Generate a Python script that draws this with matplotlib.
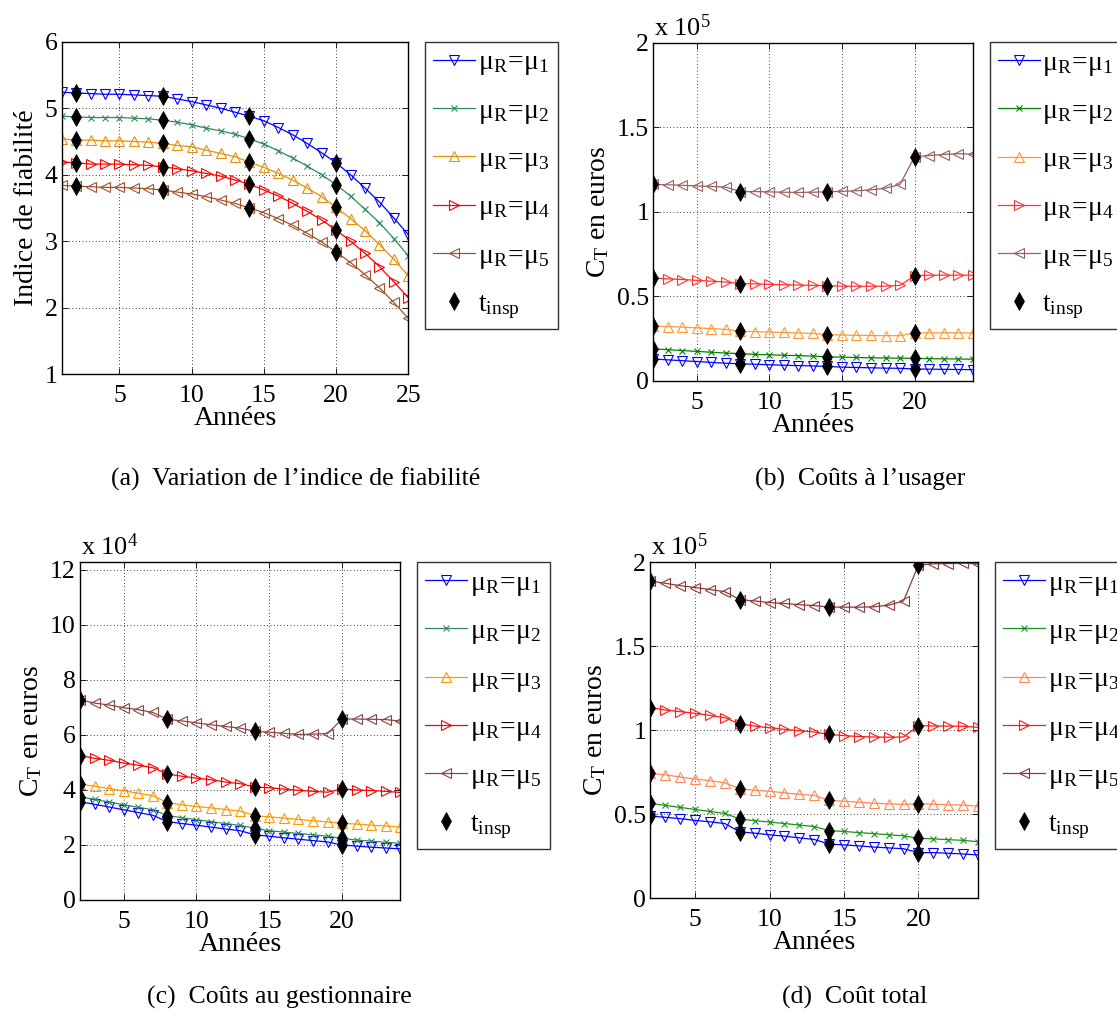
import numpy as np
import matplotlib
matplotlib.use("Agg")
import matplotlib.pyplot as plt

plt.rcParams['font.family'] = ['Liberation Serif', 'DejaVu Serif']
plt.rcParams['mathtext.fontset'] = 'custom'
plt.rcParams['mathtext.rm'] = 'Liberation Serif'
plt.rcParams['mathtext.it'] = 'Liberation Serif:italic'

# years
years_a = np.arange(1, 26)
years_c = np.arange(2, 25)
t_insp = [2, 8, 14, 20]

# (a) indice de fiabilite
a_mu1 = [5.24, 5.23, 5.22, 5.21, 5.21, 5.20, 5.19, 5.18, 5.14, 5.10, 5.05, 5.00, 4.94,
         4.88, 4.81, 4.71, 4.60, 4.47, 4.33, 4.18, 4.00, 3.80, 3.59, 3.35, 3.10]
a_mu2 = [4.88, 4.87, 4.86, 4.86, 4.86, 4.85, 4.84, 4.82, 4.79, 4.75, 4.70, 4.66, 4.61,
         4.54, 4.46, 4.36, 4.25, 4.13, 4.00, 3.85, 3.68, 3.48, 3.28, 3.04, 2.78]
a_mu3 = [4.54, 4.52, 4.52, 4.51, 4.51, 4.50, 4.49, 4.47, 4.44, 4.42, 4.37, 4.32, 4.27,
         4.19, 4.11, 4.02, 3.92, 3.80, 3.67, 3.51, 3.34, 3.16, 2.95, 2.73, 2.48]
a_mu4 = [4.19, 4.18, 4.16, 4.16, 4.16, 4.15, 4.14, 4.12, 4.09, 4.06, 4.02, 3.98, 3.92,
         3.86, 3.77, 3.68, 3.57, 3.45, 3.32, 3.17, 3.00, 2.82, 2.62, 2.39, 2.15]
a_mu5 = [3.84, 3.83, 3.82, 3.81, 3.81, 3.80, 3.79, 3.77, 3.74, 3.71, 3.67, 3.62, 3.57,
         3.50, 3.43, 3.34, 3.24, 3.12, 2.99, 2.84, 2.68, 2.50, 2.30, 2.08, 1.84]

# (b) couts a l'usager (x 1e5 euros)
b_mu1 = [0.130, 0.125, 0.120, 0.115, 0.110, 0.105, 0.102, 0.099, 0.096, 0.093, 0.091, 0.089,
         0.086, 0.082, 0.080, 0.078, 0.076, 0.075, 0.071, 0.070, 0.069, 0.068, 0.067]
b_mu2 = [0.190, 0.185, 0.180, 0.175, 0.170, 0.165, 0.162, 0.157, 0.155, 0.152, 0.150, 0.147,
         0.143, 0.141, 0.139, 0.137, 0.136, 0.135, 0.134, 0.132, 0.131, 0.130, 0.129]
b_mu3 = [0.324, 0.322, 0.318, 0.314, 0.310, 0.305, 0.294, 0.292, 0.289, 0.287, 0.284, 0.281,
         0.274, 0.272, 0.270, 0.269, 0.268, 0.268, 0.284, 0.285, 0.285, 0.285, 0.283]
b_mu4 = [0.609, 0.604, 0.600, 0.595, 0.590, 0.585, 0.576, 0.574, 0.571, 0.569, 0.567, 0.565,
         0.563, 0.561, 0.560, 0.560, 0.561, 0.565, 0.623, 0.625, 0.626, 0.626, 0.625]
b_mu5 = [1.162, 1.160, 1.157, 1.153, 1.150, 1.146, 1.119, 1.120, 1.118, 1.116, 1.115, 1.116,
         1.119, 1.121, 1.125, 1.130, 1.140, 1.162, 1.326, 1.333, 1.339, 1.344, 1.341]

# (c) couts au gestionnaire (x 1e4 euros)
c_mu1 = [3.57, 3.48, 3.38, 3.28, 3.18, 3.08, 2.85, 2.78, 2.72, 2.65, 2.58, 2.52,
         2.37, 2.32, 2.26, 2.21, 2.16, 2.11, 2.00, 1.96, 1.92, 1.89, 1.86]
c_mu2 = [3.75, 3.66, 3.56, 3.46, 3.37, 3.28, 3.07, 2.99, 2.92, 2.85, 2.78, 2.71,
         2.61, 2.52, 2.47, 2.42, 2.37, 2.32, 2.24, 2.18, 2.14, 2.10, 2.06]
c_mu3 = [4.21, 4.14, 4.05, 3.97, 3.88, 3.79, 3.54, 3.46, 3.40, 3.35, 3.29, 3.23,
         3.07, 3.02, 2.98, 2.93, 2.88, 2.84, 2.79, 2.76, 2.72, 2.69, 2.65]
c_mu4 = [5.25, 5.15, 5.08, 4.98, 4.90, 4.81, 4.58, 4.50, 4.43, 4.37, 4.29, 4.23,
         4.11, 4.08, 4.03, 3.99, 3.95, 3.92, 4.04, 4.00, 3.98, 3.95, 3.91]
c_mu5 = [7.28, 7.16, 7.09, 6.99, 6.92, 6.82, 6.57, 6.51, 6.44, 6.37, 6.31, 6.25,
         6.13, 6.10, 6.06, 6.02, 6.03, 6.05, 6.58, 6.58, 6.57, 6.56, 6.50]

# (d) cout total (x 1e5 euros)
d_mu1 = [0.490, 0.482, 0.474, 0.464, 0.455, 0.445, 0.395, 0.388, 0.378, 0.370, 0.360, 0.350,
         0.323, 0.318, 0.312, 0.305, 0.300, 0.295, 0.272, 0.272, 0.268, 0.264, 0.258]
d_mu2 = [0.565, 0.553, 0.541, 0.529, 0.517, 0.505, 0.472, 0.462, 0.454, 0.445, 0.436, 0.427,
         0.403, 0.398, 0.391, 0.385, 0.378, 0.372, 0.357, 0.354, 0.349, 0.345, 0.337]
d_mu3 = [0.744, 0.735, 0.722, 0.710, 0.700, 0.687, 0.653, 0.643, 0.637, 0.628, 0.619, 0.612,
         0.583, 0.578, 0.572, 0.566, 0.562, 0.559, 0.563, 0.560, 0.557, 0.555, 0.548]
d_mu4 = [1.135, 1.121, 1.111, 1.101, 1.089, 1.075, 1.038, 1.025, 1.015, 1.006, 0.997, 0.990,
         0.976, 0.968, 0.963, 0.960, 0.959, 0.960, 1.028, 1.026, 1.025, 1.024, 1.018]
d_mu5 = [1.889, 1.875, 1.861, 1.850, 1.838, 1.825, 1.778, 1.770, 1.760, 1.755, 1.748, 1.742,
         1.734, 1.733, 1.733, 1.735, 1.745, 1.770, 1.984, 1.991, 1.992, 1.995, 1.990]

markers = ['v', 'x', '^', '>', '<']
labels = [r'$\mathregular{μ_R\!=\!μ_%d}$' % (i + 1) for i in range(5)]

colors_a = ['#0000ff', '#2e8b57', '#e8900a', '#ff0000', '#a0522d']
colors_b = ['#0000ff', '#008000', '#ff9933', '#ff3333', '#996060']
colors_c = ['#0000ff', '#2e8b57', '#ff9900', '#ff0000', '#8b4545']
colors_d = ['#0000ff', '#1e901e', '#ff8855', '#ff1a1a', '#8b3a3a']

TICK_FS = 18.5
LABEL_FS = 20

fig = plt.figure(figsize=(11.17, 10.09), dpi=100)


def panel(rect, x, series, colors, xlim, ylim, yticks, ylabel, leg_anchor, expo=None):
    ax = fig.add_axes(rect)
    for s, c, m, lab in zip(series, colors, markers, labels):
        ms = 5 if m == 'x' else 7.5
        ax.plot(x, s, color=c, marker=m, ms=ms, mfc='none', mec=c, mew=0.8,
                lw=0.9, label=lab)
    # inspection points
    xs = list(x)
    first = True
    for s in series:
        yv = [s[xs.index(t)] for t in t_insp]
        ax.plot(t_insp, yv, linestyle='none', marker='d', ms=9, mew=0.5, color='black',
                label=r'$\mathregular{t_{insp}}$' if first else None, zorder=5)
        first = False
    ax.set_xlim(*xlim)
    ax.set_ylim(*ylim)
    ax.set_xticks([5, 10, 15, 20, 25] if xlim[1] >= 25 else [5, 10, 15, 20])
    ax.set_yticks(yticks)
    ax.set_yticklabels([('%g' % v) for v in yticks])
    ax.tick_params(direction='in', top=True, right=True, length=4, width=0.6,
                   labelsize=TICK_FS)
    ax.tick_params(axis='x', pad=8)
    ax.tick_params(axis='y', pad=3)
    ax.grid(True, color='black', linestyle=(0, (1, 3)), linewidth=0.6)
    for sp in ax.spines.values():
        sp.set_linewidth(1.0)
    ax.set_xlabel('Années', fontsize=LABEL_FS, labelpad=-1)
    ax.set_ylabel(ylabel, fontsize=LABEL_FS, labelpad=4)
    if expo is not None:
        ax.annotate(r'$\mathregular{x\ 10^{%d}}$' % expo, xy=(0, 1), xycoords='axes fraction',
                    xytext=(1, 7), textcoords='offset pixels',
                    ha='left', va='baseline', fontsize=19)
    leg = ax.legend(loc='upper left', bbox_to_anchor=leg_anchor,
                    bbox_transform=fig.transFigure, fontsize=20, frameon=True,
                    fancybox=False, edgecolor='black', borderaxespad=0,
                    handlelength=1.5, handletextpad=0.1, labelspacing=0.75,
                    borderpad=0.3)
    leg.get_frame().set_linewidth(1.0)
    return ax


panel([0.05524, 0.62904, 0.31030, 0.32963], years_a, [a_mu1, a_mu2, a_mu3, a_mu4, a_mu5],
      colors_a, (1, 25), (1, 6), [1, 2, 3, 4, 5, 6], 'Indice de fiabilité',
      (0.38048, 0.95867))
panel([0.58487, 0.62240, 0.28585, 0.33528], years_c, [b_mu1, b_mu2, b_mu3, b_mu4, b_mu5],
      colors_b, (2, 24), (0, 2), [0, 0.5, 1, 1.5, 2], r'$\mathregular{C_T}$ en euros',
      (0.88595, 0.95837), expo=5)
panel([0.07162, 0.10803, 0.28675, 0.33528], years_c, [c_mu1, c_mu2, c_mu3, c_mu4, c_mu5],
      colors_c, (2, 24), (0, 12.3), [0, 2, 4, 6, 8, 10, 12], r'$\mathregular{C_T}$ en euros',
      (0.37314, 0.44302), expo=4)
panel([0.58228, 0.10971, 0.29329, 0.33300], years_c, [d_mu1, d_mu2, d_mu3, d_mu4, d_mu5],
      colors_d, (2, 24), (0, 2), [0, 0.5, 1, 1.5, 2], r'$\mathregular{C_T}$ en euros',
      (0.89078, 0.44302), expo=5)

captions = [(0.2646, 1 - 486 / 1009, '(a)  Variation de l’indice de fiabilité'),
            (0.770, 1 - 486 / 1009, '(b)  Coûts à l’usager'),
            (0.250, 1 - 1004 / 1009, '(c)  Coûts au gestionnaire'),
            (0.765, 1 - 1004 / 1009, '(d)  Coût total')]
for cx, cy, txt in captions:
    fig.text(cx, cy, txt, ha='center', va='baseline', fontsize=18.5)

fig.savefig('out.png', dpi=100)
